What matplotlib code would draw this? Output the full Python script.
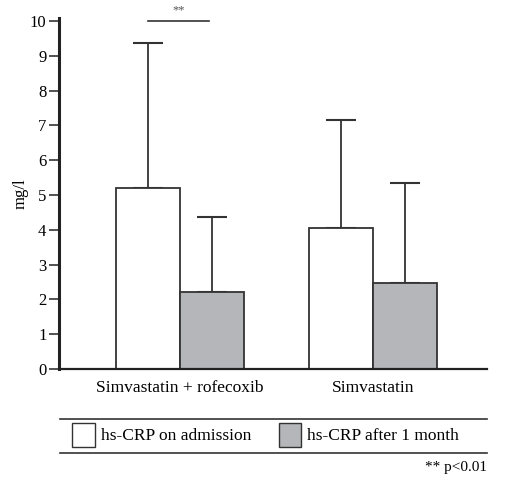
import matplotlib
matplotlib.use("Agg")
import matplotlib.pyplot as plt
from matplotlib.patches import Rectangle
from matplotlib.lines import Line2D
import numpy as np

plt.rcParams['font.family'] = ['Liberation Serif', 'DejaVu Serif']

categories = ["Simvastatin + rofecoxib", "Simvastatin"]
admission = [5.2, 4.05]
admission_err = [4.17, 3.11]
month = [2.21, 2.47]
month_err = [2.16, 2.87]
yticks = list(range(0, 11))
series_labels = ["hs-CRP on admission", "hs-CRP after 1 month"]

W, H = 507, 482
fig = plt.figure(figsize=(W/100, H/100), dpi=100)
ax = fig.add_axes([59/W, 1-369/H, (487-59)/W, (369-17.5)/H])

x = np.arange(len(categories))
w = 0.334
edge = '#333333'
gray = '#b5b6b9'
ax.bar(x - w/2, admission, w, color='white', edgecolor=edge, linewidth=1.3, zorder=2)
ax.bar(x + w/2, month, w, color=gray, edgecolor=edge, linewidth=1.3, zorder=2)
ax.errorbar(x - w/2, admission, yerr=[np.zeros(2), admission_err], fmt='none',
            ecolor=edge, elinewidth=1.3, capsize=11, capthick=1.5, zorder=1)
ax.errorbar(x + w/2, month, yerr=[np.zeros(2), month_err], fmt='none',
            ecolor=edge, elinewidth=1.3, capsize=11, capthick=1.5, zorder=1)

ax.set_xlim(-0.627, 1.591)
ax.set_ylim(0, 10.1)
ax.set_yticks(yticks)
ax.set_yticklabels([str(t) for t in yticks], fontsize=12)
ax.set_xticks(x)
ax.set_xticklabels(categories, fontsize=12.5)
ax.tick_params(axis='x', length=0, pad=8)
ax.tick_params(axis='y', length=7, width=1.3, color='#444444', pad=2)
for s in ['top', 'right']:
    ax.spines[s].set_visible(False)
ax.spines['left'].set_linewidth(2.2)
ax.spines['bottom'].set_linewidth(1.6)
ax.spines['left'].set_color('#222222')
ax.spines['bottom'].set_color('#222222')
ax.set_ylabel("mg/l", fontsize=12, labelpad=1)

# significance bar
ax.plot([x[0] - 0.166, x[0] + 0.150], [10, 10], color=edge, lw=1.2, clip_on=False)
ax.text(x[0] - 0.005, 10.12, "**", ha='center', va='bottom', fontsize=9, color='#555555')

# legend box
def fx(px): return px / W
def fy(py): return 1 - py / H
fig.add_artist(Line2D([fx(60), fx(487)], [fy(419), fy(419)], color='#333333', lw=1.2))
fig.add_artist(Line2D([fx(60), fx(487)], [fy(453), fy(453)], color='#333333', lw=1.2))
fig.add_artist(Rectangle((fx(72), fy(447)), fx(95)-fx(72), fy(423)-fy(447),
                         facecolor='white', edgecolor=edge, lw=1.0, transform=fig.transFigure))
fig.text(fx(101), fy(436), series_labels[0], ha='left', va='center', fontsize=12.5)
fig.add_artist(Rectangle((fx(279), fy(447)), fx(301)-fx(279), fy(423)-fy(447),
                         facecolor=gray, edgecolor=edge, lw=1.0, transform=fig.transFigure))
fig.text(fx(307), fy(436), series_labels[1], ha='left', va='center', fontsize=12.5)
fig.text(fx(487), fy(468), "** p<0.01", ha='right', va='center', fontsize=11)

fig.savefig("out.png", dpi=100)
